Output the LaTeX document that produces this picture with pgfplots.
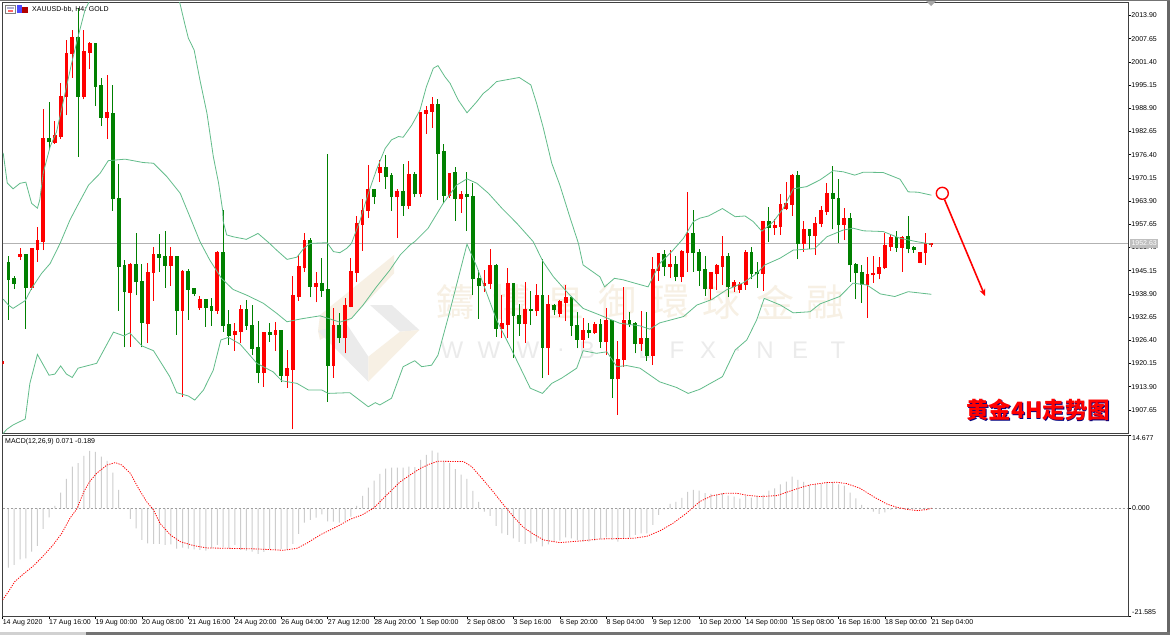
\documentclass[border=0pt]{standalone}
\usepackage{pgfplots}
\pgfplotsset{compat=1.18}
\usepackage{pgfplotstable}
\usepackage{fontspec}
\usetikzlibrary{arrows.meta}
\setmainfont{Liberation Sans}
\newfontfamily\cjk{Noto Sans CJK SC}
\newfontfamily\cjktc{Noto Sans CJK TC}
\definecolor{bandg}{HTML}{62BC8A}
\definecolor{cg}{HTML}{008000}
\definecolor{cr}{HTML}{FF0000}
\definecolor{wmgold}{HTML}{F7F0E4}
\definecolor{wmgrey}{HTML}{EBEBEB}
\definecolor{hist}{HTML}{CDCDCD}
\definecolor{frame}{HTML}{404040}

% i low high bodylow bodyhigh
\pgfplotstableread{
i l h bl bh
0 1919.7 1920.6 1920.0 1920.4
3 1948.0 1951.3 1948.9 1949.4
5 1940.0 1951.3 1940.5 1951.0
6 1947.5 1957.0 1950.7 1953.0
7 1950.7 1988.7 1953.0 1980.6
9 1979.3 1985.6 1979.6 1981.4
10 1980.6 1995.8 1981.3 1992.0
11 1987.0 2007.3 1992.0 2003.5
12 1997.1 2010.0 2003.5 2007.8
14 1991.3 2010.0 1992.0 2004.1
15 1999.4 2006.8 2003.9 2006.2
18 1980.6 1997.8 1986.3 1987.6
22 1924.7 1947.3 1939.1 1946.6
25 1925.8 1947.3 1930.9 1944.6
26 1937.1 1951.5 1944.5 1949.3
29 1941.0 1951.5 1946.4 1948.7
31 1911.2 1945.3 1934.3 1944.8
34 1934.6 1938.3 1935.0 1937.3
37 1933.5 1950.5 1934.4 1949.9
40 1923.6 1931.0 1927.7 1928.7
41 1925.8 1935.9 1928.7 1934.6
45 1913.9 1928.4 1917.7 1928.4
47 1923.6 1931.2 1927.9 1928.8
49 1913.6 1923.8 1916.8 1918.6
50 1902.4 1943.7 1918.4 1938.3
51 1937.0 1949.4 1938.0 1946.2
52 1944.9 1955.2 1945.8 1953.0
54 1936.6 1944.9 1940.7 1941.6
57 1916.3 1935.0 1919.6 1930.3
59 1922.9 1937.7 1927.0 1935.6
60 1935.3 1948.7 1935.4 1944.8
61 1942.1 1959.9 1944.6 1957.7
62 1950.5 1964.4 1957.5 1961.3
63 1959.4 1973.6 1961.3 1966.9
65 1969.0 1975.0 1971.4 1972.9
68 1954.0 1967.1 1965.0 1966.3
70 1961.9 1974.7 1962.7 1970.9
72 1964.9 1988.0 1965.7 1987.6
73 1982.0 1989.5 1987.4 1988.2
74 1983.6 1992.0 1988.0 1989.8
77 1964.7 1971.4 1965.4 1971.2
79 1960.8 1966.6 1964.6 1965.5
83 1939.5 1945.3 1941.0 1941.6
84 1940.2 1950.9 1941.5 1946.5
86 1927.0 1938.6 1929.5 1930.8
87 1927.0 1945.8 1930.5 1941.6
90 1925.8 1942.1 1930.9 1934.6
92 1933.0 1941.5 1934.3 1938.3
94 1917.1 1938.5 1924.3 1935.8
96 1932.6 1937.3 1933.5 1936.7
97 1931.6 1941.3 1936.5 1937.8
100 1924.2 1932.4 1926.5 1928.9
102 1928.1 1931.3 1928.3 1930.5
104 1922.4 1935.0 1925.9 1931.5
106 1906.3 1926.3 1915.9 1921.1
107 1919.3 1940.7 1921.1 1931.6
110 1923.6 1934.3 1925.4 1926.8
112 1919.7 1948.8 1922.2 1945.3
113 1942.5 1949.8 1945.2 1949.5
115 1943.1 1950.7 1946.2 1946.6
117 1942.1 1950.7 1943.5 1950.2
118 1944.9 1966.3 1949.9 1955.1
122 1937.3 1944.6 1940.1 1944.4
123 1940.0 1947.0 1944.3 1946.4
124 1941.3 1954.5 1946.2 1948.8
126 1939.5 1942.6 1940.8 1941.7
127 1939.2 1942.2 1940.0 1941.4
128 1940.0 1950.7 1941.3 1949.9
131 1939.8 1958.3 1944.3 1958.3
133 1954.8 1959.0 1956.6 1957.2
134 1954.8 1965.7 1957.0 1962.8
135 1961.5 1969.0 1961.7 1963.0
136 1960.0 1971.2 1962.8 1970.6
138 1950.3 1958.6 1952.4 1956.1
140 1949.4 1959.7 1954.5 1957.8
141 1956.8 1962.6 1957.7 1961.2
142 1960.1 1968.7 1961.0 1965.7
145 1953.4 1962.0 1957.5 1959.0
149 1932.5 1948.8 1941.4 1943.9
150 1941.9 1949.2 1943.9 1944.3
151 1942.8 1948.8 1944.3 1945.9
152 1945.6 1955.2 1945.8 1951.7
153 1950.5 1955.0 1951.6 1953.9
155 1944.9 1954.5 1951.3 1953.9
158 1947.1 1950.2 1947.3 1950.0
159 1946.7 1955.2 1950.0 1952.2
160 1951.5 1952.7 1952.2 1952.4
}\redT
\pgfplotstableread{
i l h bl bh
1 1931.9 1949.1 1942.6 1947.3
2 1940.2 1943.7 1941.6 1942.8
4 1929.4 1949.4 1940.5 1949.4
8 1977.9 1990.6 1979.8 1980.6
13 1975.9 2015.9 1992.0 2007.8
16 1989.5 2006.2 1994.7 2006.2
17 1984.1 1997.1 1986.3 1994.9
19 1961.3 1995.2 1964.4 1987.4
20 1934.4 1973.9 1946.2 1964.4
21 1924.5 1948.0 1939.4 1946.4
23 1938.5 1955.2 1942.1 1946.6
24 1924.5 1947.0 1931.0 1942.1
27 1944.8 1955.0 1948.6 1949.3
28 1940.5 1955.8 1946.4 1948.8
30 1927.9 1948.9 1934.3 1948.8
32 1931.9 1945.5 1940.0 1944.8
33 1938.3 1940.1 1938.9 1940.1
35 1930.1 1937.6 1935.2 1937.3
36 1930.3 1937.7 1934.4 1935.3
38 1928.7 1961.5 1930.3 1949.9
39 1925.2 1934.6 1927.6 1930.4
42 1929.2 1937.3 1930.3 1934.6
43 1922.4 1935.8 1924.1 1930.3
44 1914.8 1931.6 1917.7 1924.2
46 1926.0 1931.0 1927.9 1928.3
48 1915.1 1929.2 1916.9 1928.9
53 1938.0 1953.9 1940.8 1953.0
55 1938.2 1948.5 1939.7 1941.6
56 1909.9 1976.5 1919.6 1940.0
58 1925.8 1933.7 1927.0 1930.3
64 1963.1 1966.9 1964.9 1966.9
66 1967.1 1976.3 1970.5 1972.9
67 1961.3 1971.4 1965.0 1970.6
69 1959.9 1973.9 1962.7 1966.3
71 1964.9 1971.7 1965.7 1970.9
75 1964.2 1991.5 1976.7 1989.8
76 1963.3 1979.2 1965.4 1977.1
78 1958.6 1973.0 1964.6 1971.4
80 1955.8 1971.7 1965.0 1965.5
81 1938.6 1968.7 1942.8 1965.1
82 1932.2 1945.3 1941.0 1943.0
85 1927.4 1946.9 1929.5 1946.5
88 1921.6 1941.8 1933.0 1941.6
89 1927.6 1936.2 1930.9 1933.0
91 1930.5 1939.7 1934.3 1934.6
93 1916.2 1948.3 1924.3 1938.3
95 1933.2 1936.2 1934.5 1935.7
98 1927.6 1938.3 1930.2 1937.8
99 1924.2 1934.0 1926.5 1930.3
101 1926.9 1931.0 1928.4 1928.9
103 1924.3 1932.1 1925.9 1930.5
105 1910.8 1931.9 1915.9 1931.5
108 1930.1 1934.0 1930.4 1931.6
109 1922.9 1931.4 1925.4 1930.7
111 1920.9 1933.9 1922.2 1926.8
114 1943.7 1950.7 1946.2 1949.4
116 1942.3 1949.1 1943.5 1946.7
119 1944.9 1961.5 1949.9 1955.1
120 1941.0 1950.9 1945.1 1950.0
121 1938.3 1949.1 1940.1 1945.2
125 1938.0 1950.0 1940.8 1948.8
129 1942.8 1951.5 1944.3 1949.8
130 1940.5 1947.5 1944.3 1944.5
132 1952.9 1962.2 1956.6 1958.3
137 1948.2 1972.0 1952.4 1970.6
139 1950.9 1956.3 1954.5 1956.1
143 1956.3 1973.4 1964.5 1965.7
144 1952.7 1969.9 1957.5 1964.5
146 1942.2 1960.8 1946.6 1959.0
147 1937.4 1947.1 1944.5 1946.7
148 1936.5 1946.7 1941.4 1944.5
154 1950.3 1955.8 1951.3 1953.9
156 1949.8 1959.9 1951.1 1954.2
157 1950.0 1951.8 1950.7 1951.3
}\greenT

\pgfplotstableread{
i v
1 -11.89
2 -11.36
3 -10.22
4 -10.02
5 -8.68
6 -7.55
7 -4.14
8 -1.80
9 0.47
10 3.14
11 5.88
12 8.35
13 9.02
14 10.49
15 11.49
16 11.29
17 10.35
18 9.49
19 7.15
20 3.67
21 0.00
22 -2.14
23 -4.01
24 -6.35
25 -7.01
26 -7.15
27 -7.15
28 -7.35
29 -7.21
30 -8.08
31 -7.88
32 -8.08
33 -8.22
34 -8.35
35 -8.48
36 -8.02
37 -7.35
38 -7.82
39 -8.02
40 -7.35
41 -8.35
42 -8.48
43 -8.68
44 -9.15
45 -8.75
46 -8.15
47 -8.35
48 -8.15
49 -8.35
50 -7.15
51 -5.14
52 -2.87
53 -2.34
54 -1.87
55 -1.20
56 -2.61
57 -2.67
58 -2.87
59 -2.47
60 -1.67
61 0.47
62 2.47
63 4.14
64 5.54
65 6.88
66 7.95
67 8.15
68 8.15
69 8.15
70 8.35
71 8.22
72 9.69
73 10.69
74 11.56
75 11.16
76 9.55
77 9.02
78 7.82
79 6.75
80 5.88
81 3.47
82 1.27
83 -0.67
84 -1.54
85 -3.54
86 -5.01
87 -5.34
88 -6.01
89 -6.75
90 -7.15
91 -7.01
92 -6.68
93 -7.62
94 -7.21
95 -6.68
96 -6.48
97 -5.81
98 -6.01
99 -6.35
100 -6.68
101 -6.68
102 -6.48
103 -6.21
104 -5.81
105 -6.35
106 -6.68
107 -6.01
108 -5.81
109 -5.34
110 -5.01
111 -5.01
112 -3.34
113 -1.34
114 -0.20
115 0.87
116 1.27
117 2.07
118 3.27
119 3.67
120 3.54
121 3.01
122 2.87
123 2.67
124 3.01
125 2.54
126 2.34
127 1.94
128 2.47
129 2.14
130 2.54
131 2.67
132 3.54
133 4.01
134 4.81
135 5.34
136 6.35
137 5.68
138 5.28
139 4.68
140 4.74
141 4.88
142 5.28
143 5.28
144 4.81
145 4.54
146 3.14
147 2.00
148 0.67
149 0.13
150 -0.67
151 -1.14
152 -0.80
153 -0.33
154 0.20
155 0.07
156 0.10
157 0.10
158 0.10
159 0.10
160 0.07
}\histT

\begin{document}
\begin{tikzpicture}[x=1pt,y=1pt,every node/.style={inner sep=0pt}]
\useasboundingbox (0,0) rectangle (1170,-635);
\fill[white] (0,0) rectangle (1170,-635);
% edge strips of the terminal window
\fill[black!60] (1167,0) rectangle (1170,-635);
\fill[black!55] (86,-632) rectangle (1170,-635);
\fill[black!18] (0,-632) rectangle (86,-635);
\fill[black!55] (0,0) rectangle (1170,-1);
% watermark
\fill[wmgold] (394,-255) -- (394,-273.3) -- (346.7,-323.3) -- (320,-340) -- (318,-331) -- (320,-315) -- cycle;
\fill[wmgrey] (318,-331) -- (346,-323) -- (368.3,-356.7) -- (368.3,-381.7) -- cycle;
\fill[wmgrey] (370,-305) -- (391.7,-305) -- (419.3,-330) -- (400,-331.7) -- cycle;
\fill[wmgold] (419.3,-330) -- (368.3,-381.7) -- (368.3,-356.7) -- (400,-331.7) -- cycle;
\foreach \ch/\xx in {鑄/455,博/511,皇/565,御/617,環/670,球/721,金/775,融/825}{
  \node[text=wmgold] at (\xx,-302) {\fontsize{38}{40}\cjktc\ch};}
\foreach \ch/\xx in {W/452,W/489,W/528,./561,B/587,I/613,L/645,F/677,X/708,./738,N/765,E/800,T/838}{
  \node[text=wmgrey] at (\xx,-350) {\fontsize{24}{26}\selectfont\ch};}

\begin{axis}[
  at={(2.5pt,-433pt)},anchor=south west,scale only axis,
  width=1125.8pt,height=431pt,
  xmin=-0.017,xmax=193.92,ymin=1901.43,ymax=2017.54,
  axis line style={frame,line width=1pt},
  xtick=\empty,
  ytick pos=right,tick align=outside,major tick length=3pt,
  tick style={black,line width=.6pt},
  ytick={2013.90,2007.65,2001.40,1995.15,1988.90,1982.65,1976.40,1970.15,1963.90,1957.65,1951.40,1945.15,1938.90,1932.65,1926.40,1920.15,1913.90,1907.65},
  yticklabels={2013.90,2007.65,2001.40,1995.15,1988.90,1982.65,1976.40,1970.15,1963.90,1957.65,1951.40,1945.15,1938.90,1932.65,1926.40,1920.15,1913.90,1907.65},
  yticklabel style={font=\fontsize{7}{8}\selectfont,anchor=west,inner sep=0pt,xshift=0pt},
]
\addplot[color=black!30,line width=.9pt,forget plot] coordinates {(-0.017,1952.63) (193.92,1952.63)};
% wicks
\addplot[draw=none,no marks,forget plot,error bars/.cd,y dir=plus,y explicit,error mark=none,error bar style={color=cr,line width=1pt}]
  table[x=i,y=l,y error expr=\thisrow{h}-\thisrow{l}] {\redT};
\addplot[draw=none,no marks,forget plot,error bars/.cd,y dir=plus,y explicit,error mark=none,error bar style={color=cg,line width=1pt}]
  table[x=i,y=l,y error expr=\thisrow{h}-\thisrow{l}] {\greenT};
% bodies
\addplot[draw=none,no marks,forget plot,error bars/.cd,y dir=plus,y explicit,error mark=none,error bar style={color=cr,line width=3.8pt}]
  table[x=i,y=bl,y error expr=\thisrow{bh}-\thisrow{bl}+0.3] {\redT};
\addplot[draw=none,no marks,forget plot,error bars/.cd,y dir=plus,y explicit,error mark=none,error bar style={color=cg,line width=3.8pt}]
  table[x=i,y=bl,y error expr=\thisrow{bh}-\thisrow{bl}+0.3] {\greenT};
% Bollinger upper
\addplot[color=bandg,line width=.8pt] coordinates {
(0.1,1976.9)(0.8,1968.8)(1.8,1967.2)(3,1968.7)(4,1969.0)(5,1963.3)(6,1962.0)(6.4,1964.2)(7,1971.5)(8.2,1978.6)(9.3,1982.6)(10.5,1991.1)(11.9,2001.1)(13,2008.2)(14.2,2015.4)(14.9,2017.6)(15.9,2023.5)(20,2030)(26,2030)(30.5,2017.5)(31.3,2012.2)(32,2007.8)(33,2004.6)(34,1996.5)(35.2,1987.6)(36.3,1975.9)(37.2,1968.8)(37.9,1961.5)(38,1958.4)(38.6,1954.8)(39.7,1954.3)(42,1953.6)(44,1955.2)(46,1952.5)(47.2,1950.7)(49,1948.2)(50.7,1948.8)(51.9,1951.2)(53,1952.5)(55.9,1952.7)(57,1950.3)(58.1,1950.0)(59.3,1951.2)(60.1,1952.5)(61.6,1958.8)(63,1966.0)(64.4,1972.3)(65.9,1978.1)(67,1980.4)(68.2,1981.3)(69,1981.1)(70.5,1984.4)(71.9,1988.4)(73,1994.7)(74.2,1999.7)(75,2000.4)(76.2,1997.4)(77.1,1995.6)(78.5,1991.1)(80,1987.7)(81.7,1990.7)(82.8,1992.9)(83.7,1994.0)(85.1,1996.1)(86.5,1996.5)(89,1997.2)(91,1995.2)(92,1990.2)(93.1,1983.9)(94.6,1974.1)(96,1968.2)(97.7,1959.7)(99.2,1952.5)(100,1946.7)(102.9,1943.5)(103.7,1940.8)(105.4,1943.1)(106.9,1942.7)(108.9,1941.8)(111.2,1940.8)(113.2,1947.1)(115.5,1950.7)(117.3,1953.9)(119,1958.4)(120.1,1959.3)(121.6,1959.9)(124,1961.9)(126.2,1959.7)(127.9,1959.9)(129.3,1958.4)(130.8,1955.8)(132.8,1958.4)(134.5,1962.0)(136.2,1967.2)(138.5,1967.8)(140.8,1969.6)(143.1,1972.1)(144.8,1971.8)(146.8,1970.9)(148.3,1971.7)(151.7,1971.6)(154.6,1969.8)(156,1966.4)(157.7,1966.3)(160,1965.5)};
% middle
\addplot[color=bandg,line width=.8pt] coordinates {
(0.1,1937.5)(1,1935.9)(1.8,1935.0)(3.9,1937.1)(5,1940.4)(6.7,1944.4)(8.2,1947.1)(9.9,1952.5)(11.6,1958.8)(12.8,1962.4)(14.8,1968.2)(16.8,1971.4)(18.2,1974.8)(21.1,1975.2)(24.2,1974.3)(26,1974.1)(28.3,1970.5)(30.6,1966.0)(32.6,1958.4)(34,1953.0)(35.7,1948.0)(37.7,1943.1)(39.7,1940.1)(42,1938.6)(44.9,1936.4)(47.2,1933.7)(49,1931.4)(51.5,1932.2)(54.7,1933.0)(56.1,1932.3)(58.1,1931.3)(60.1,1932.3)(62.1,1935.9)(64.4,1940.8)(66.7,1945.3)(68.5,1949.4)(70.2,1952.1)(71,1953.0)(73.3,1956.6)(75.9,1963.3)(78.2,1968.2)(80,1969.9)(81.7,1968.7)(83.7,1966.0)(86,1962.0)(88.6,1957.9)(91.4,1953.0)(93.1,1947.6)(94.9,1943.5)(97.7,1938.6)(100,1935.0)(102.9,1933.2)(106.3,1931.0)(109.8,1930.3)(111.5,1929.4)(113.2,1931.1)(117.3,1932.8)(119.6,1935.9)(122.2,1937.4)(124.7,1940.0)(127.6,1941.9)(129.9,1944.4)(131.3,1946.7)(133.9,1948.5)(136.2,1950.7)(139.9,1951.1)(142,1954.3)(144.8,1956.1)(146.5,1956.6)(148.3,1955.9)(151.7,1955.7)(154.6,1953.9)(157.4,1953.0)(160,1952.3)};
% lower
\addplot[color=bandg,line width=.8pt] coordinates {
(0.1,1901.3)(0.7,1902.4)(1.8,1903.6)(3.9,1905.2)(4.7,1914.8)(6,1922.6)(8,1917.0)(9,1917.3)(10,1919.5)(11,1917.3)(12,1916.4)(13,1918.9)(16.2,1920.2)(19.1,1928.6)(20.9,1927.6)(21.9,1928.4)(24,1924.9)(26,1923.6)(28.8,1916.6)(30,1912.3)(32,1911.4)(33.1,1910.3)(34.6,1913.0)(36.3,1918.4)(37.6,1926.5)(38.9,1927.2)(40.9,1925.4)(43.8,1920.2)(46.6,1917.9)(48.1,1915.5)(50.7,1914.8)(52.7,1913.0)(55,1913.0)(56.1,1912.1)(59.8,1912.3)(63,1908.5)(64.2,1909.6)(65,1909.0)(67,1910.8)(69,1919.3)(71,1920.9)(72.2,1919.3)(73.9,1919.7)(75,1922.4)(76.8,1932.8)(80,1952.3)(81.7,1946.2)(85.1,1931.9)(87.7,1923.8)(90.9,1913.5)(93,1912.1)(94.6,1914.8)(96.3,1916.2)(98.9,1918.9)(100,1923.6)(102.3,1922.9)(104.1,1923.3)(105.8,1919.3)(107.5,1919.6)(109.8,1918.9)(113.2,1915.2)(116.1,1913.7)(118.1,1912.1)(120.1,1913.2)(124,1916.6)(126.2,1923.8)(128.2,1926.5)(129.9,1931.9)(131.2,1937.7)(134,1935.9)(136.2,1933.8)(139.1,1934.1)(140.8,1936.2)(144.2,1938.2)(146.5,1941.8)(148.9,1941.3)(151.2,1938.9)(153.7,1938.2)(156,1939.5)(160,1938.8)};
\end{axis}

\begin{axis}[
  at={(2.5pt,-616pt)},anchor=south west,scale only axis,
  width=1125.8pt,height=181pt,
  xmin=-0.017,xmax=193.92,ymin=-21.585,ymax=14.677,
  axis line style={frame,line width=1pt},
  ytick pos=right,xtick pos=bottom,tick align=outside,major tick length=3pt,
  tick style={black,line width=.6pt},
  ytick={-21.585,0,14.677},yticklabels={,,},
  xtick={0,8,...,160},
  xticklabels={14 Aug 2020,17 Aug 16:00,19 Aug 00:00,20 Aug 08:00,21 Aug 16:00,24 Aug 20:00,26 Aug 04:00,27 Aug 12:00,28 Aug 20:00,1 Sep 00:00,2 Sep 08:00,3 Sep 16:00,6 Sep 20:00,8 Sep 04:00,9 Sep 12:00,10 Sep 20:00,14 Sep 00:00,15 Sep 08:00,16 Sep 16:00,18 Sep 00:00,21 Sep 04:00},
  xticklabel style={font=\fontsize{7}{8}\selectfont,anchor=north west,inner sep=0pt},
]
\addplot[ybar,bar width=1pt,bar shift=0pt,fill=hist,draw=none,forget plot] table[x=i,y=v] {\histT};
\addplot[color=black!38,line width=.7pt,dash pattern=on 2.5pt off 1.5pt,forget plot] coordinates {(-0.017,0) (193.92,0)};
\addplot[color=cr,line width=.8pt,dash pattern=on 1.2pt off 1.2pt,forget plot] coordinates {
(0,-18.37)(1,-16.7)(2.1,-14.7)(3.6,-13.16)(5.3,-11.56)(7,-9.55)(8.7,-7.35)(10.2,-5.01)(11.6,-2.0)(12.8,-0.13)(14,3.34)(15,5.34)(16.2,7.01)(18,8.68)(19.4,9.15)(20.5,8.68)(22,7.01)(23.4,4.01)(24.8,1.34)(26,-0.33)(27.1,-3.0)(28.9,-5.34)(30.6,-6.68)(32.9,-7.48)(35.2,-7.95)(38.6,-8.02)(43.8,-8.15)(48.4,-8.42)(50.7,-8.02)(52.4,-7.01)(54.7,-5.34)(57.6,-3.67)(59.9,-2.2)(61.9,-1.34)(63.9,0)(65.6,2.0)(68.5,5.3)(70.2,6.68)(72,8.02)(73.6,8.88)(75,9.42)(79.4,9.35)(80.8,8.35)(82.8,5.68)(84.5,3.34)(86.3,0.67)(88,-1.67)(89.7,-3.81)(91.4,-5.14)(93.2,-6.35)(96,-6.88)(99.5,-6.55)(102.9,-6.15)(105.8,-6.08)(108.7,-6.01)(111,-5.61)(113.3,-4.48)(115.5,-3.0)(117.8,-1.0)(120.1,1.34)(122.1,2.47)(124.5,3.01)(126.5,3.01)(128.2,2.61)(130.5,2.34)(133.4,2.54)(135.4,3.34)(137.1,4.01)(139.1,4.68)(141.9,5.14)(143.7,5.21)(145.4,4.94)(147.7,4.01)(150,2.34)(152.3,0.87)(154,0.2)(155.7,-0.2)(157.5,-0.47)(159.2,-0.27)(160,0)};
\end{axis}

% lower-axis labels, pulled inside the pane as in the terminal
\node[anchor=west] at (1132,-438.5) {\fontsize{7}{8}\selectfont 14.677};
\node[anchor=west] at (1132,-508) {\fontsize{7}{8}\selectfont 0.000};
\node[anchor=west] at (1132,-612) {\fontsize{7}{8}\selectfont -21.585};
% current price tag
\node[fill=black!25,text=white,minimum width=28pt,minimum height=9pt,anchor=west] at (1130,-243.3) {\fontsize{7}{8}\selectfont 1952.63};
% shift marker
\fill[black!35] (926,-1) -- (936,-1) -- (931,-6) -- cycle;
% header
\fill[white,draw=black!50,line width=.5pt] (5,-5) rectangle (15,-13);
\fill[blue!40!black!30] (6.5,-7) rectangle (13.5,-9);
\fill[red!60] (8,-9.5) rectangle (13,-12);
\fill[blue!70] (17,-5) rectangle (22,-13);
\fill[red!70!black] (22,-7) rectangle (28,-13);
\node[anchor=west] at (32,-9) {\fontsize{7}{8}\selectfont XAUUSD-bb, H4: GOLD};
\node[anchor=west] at (5,-441.5) {\fontsize{7}{8}\selectfont MACD(12,26,9) 0.071 -0.189};
% annotation
\draw[cr,line width=1.4pt] (942.3,-193.3) circle (6);
\draw[cr,line width=1.6pt,-{Stealth[length=7pt,width=6pt]}] (944.5,-199.5) -- (985,-296);
\node[text=blue!50!black,anchor=west] at (967,-411) {\fontsize{22.5}{24}\cjk\bfseries 黄金4H走势图};
\node[text=cr,anchor=west] at (966.2,-410.2) {\fontsize{22.5}{24}\cjk\bfseries 黄金4H走势图};
\end{tikzpicture}
\end{document}
